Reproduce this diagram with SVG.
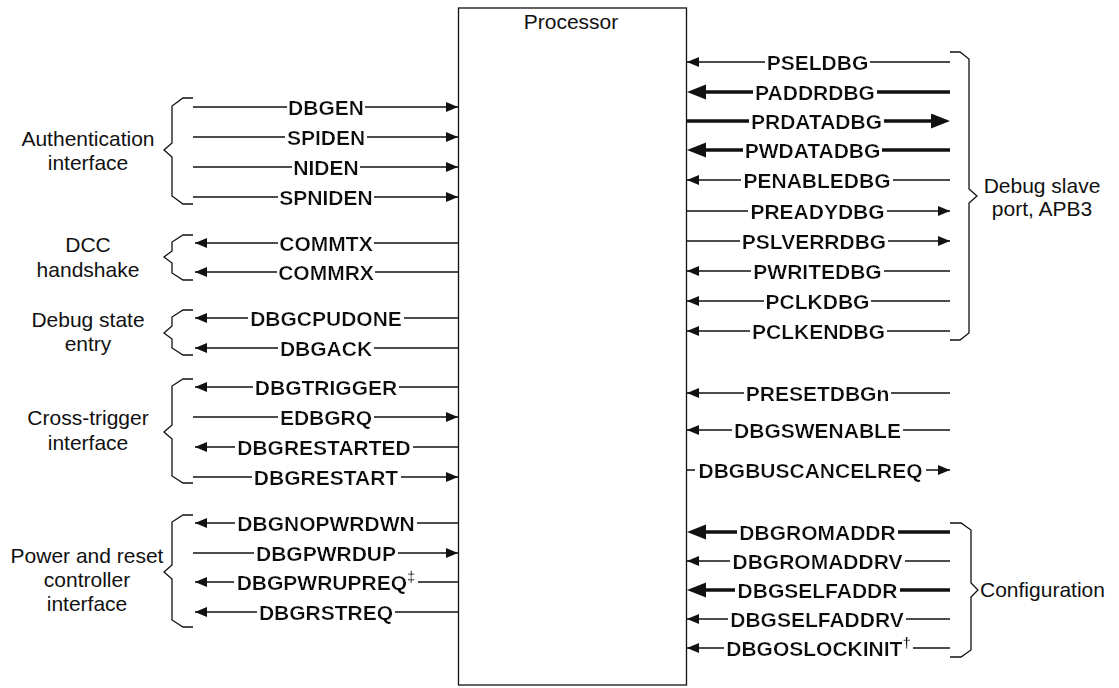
<svg xmlns="http://www.w3.org/2000/svg" width="1119" height="688" viewBox="0 0 1119 688">
<style>
text{font-family:"Liberation Sans",Arial,sans-serif;fill:#111}
.sig{font-size:21px;font-weight:bold;text-anchor:middle;filter:url(#bg)}
.lbl{font-size:21px;text-anchor:middle}
.thin{stroke:#111;stroke-width:1.3;fill:none}
.thick{stroke:#111;stroke-width:3.6;fill:none}
.brace{stroke:#111;stroke-width:1.3;fill:none}
.sup{font-size:15px}
</style>
<defs>
<filter id="bg" x="-0.012" y="0" width="1.024" height="1"><feFlood flood-color="#fff"/><feComposite in="SourceGraphic"/></filter>
<marker id="a" markerUnits="userSpaceOnUse" markerWidth="13" markerHeight="11" refX="12" refY="5" orient="auto"><path d="M0,0 L12,5 L0,10z" fill="#111"/></marker>
<marker id="A" markerUnits="userSpaceOnUse" markerWidth="20" markerHeight="16" refX="11" refY="7.5" orient="auto"><path d="M0,0 L19,7.5 L0,15z" fill="#111"/></marker>
</defs>
<rect width="1119" height="688" fill="#fff"/>
<g id="processor">
<rect x="458.5" y="8" width="228" height="677" fill="#fff" stroke="#111" stroke-width="1.3"/>
<text class="lbl" x="571" y="29">Processor</text>
</g>
<g id="connectors">
<line class="thin" x1="193" y1="107" x2="458" y2="107" marker-end="url(#a)"/>
<line class="thin" x1="193" y1="137" x2="458" y2="137" marker-end="url(#a)"/>
<line class="thin" x1="193" y1="167" x2="458" y2="167" marker-end="url(#a)"/>
<line class="thin" x1="193" y1="197" x2="458" y2="197" marker-end="url(#a)"/>
<line class="thin" x1="458" y1="243" x2="195" y2="243" marker-end="url(#a)"/>
<line class="thin" x1="458" y1="272" x2="195" y2="272" marker-end="url(#a)"/>
<line class="thin" x1="458" y1="318" x2="195" y2="318" marker-end="url(#a)"/>
<line class="thin" x1="458" y1="348" x2="195" y2="348" marker-end="url(#a)"/>
<line class="thin" x1="458" y1="387" x2="195" y2="387" marker-end="url(#a)"/>
<line class="thin" x1="193" y1="417" x2="458" y2="417" marker-end="url(#a)"/>
<line class="thin" x1="458" y1="447" x2="195" y2="447" marker-end="url(#a)"/>
<line class="thin" x1="193" y1="477" x2="458" y2="477" marker-end="url(#a)"/>
<line class="thin" x1="458" y1="523" x2="195" y2="523" marker-end="url(#a)"/>
<line class="thin" x1="193" y1="553" x2="458" y2="553" marker-end="url(#a)"/>
<line class="thin" x1="458" y1="582" x2="195" y2="582" marker-end="url(#a)"/>
<line class="thin" x1="458" y1="612" x2="195" y2="612" marker-end="url(#a)"/>

<line class="thin" x1="950" y1="62" x2="687" y2="62" marker-end="url(#a)"/>
<line class="thick" x1="950" y1="92" x2="695" y2="92" marker-end="url(#A)"/>
<line class="thick" x1="687" y1="121" x2="942" y2="121" marker-end="url(#A)"/>
<line class="thick" x1="950" y1="150" x2="695" y2="150" marker-end="url(#A)"/>
<line class="thin" x1="950" y1="180" x2="687" y2="180" marker-end="url(#a)"/>
<line class="thin" x1="687" y1="211" x2="950" y2="211" marker-end="url(#a)"/>
<line class="thin" x1="687" y1="241" x2="950" y2="241" marker-end="url(#a)"/>
<line class="thin" x1="950" y1="271" x2="687" y2="271" marker-end="url(#a)"/>
<line class="thin" x1="950" y1="301" x2="687" y2="301" marker-end="url(#a)"/>
<line class="thin" x1="950" y1="331" x2="687" y2="331" marker-end="url(#a)"/>
<line class="thin" x1="950" y1="393" x2="687" y2="393" marker-end="url(#a)"/>
<line class="thin" x1="950" y1="430" x2="687" y2="430" marker-end="url(#a)"/>
<line class="thin" x1="687" y1="470" x2="950" y2="470" marker-end="url(#a)"/>
<line class="thick" x1="950" y1="532" x2="695" y2="532" marker-end="url(#A)"/>
<line class="thin" x1="950" y1="561" x2="687" y2="561" marker-end="url(#a)"/>
<line class="thick" x1="950" y1="590" x2="695" y2="590" marker-end="url(#A)"/>
<line class="thin" x1="950" y1="619" x2="687" y2="619" marker-end="url(#a)"/>
<line class="thin" x1="950" y1="648" x2="687" y2="648" marker-end="url(#a)"/>
</g>
<g id="signal-labels">
<text class="sig" x="326" y="114.5">DBGEN</text>
<text class="sig" x="326" y="144.5">SPIDEN</text>
<text class="sig" x="326" y="174.5">NIDEN</text>
<text class="sig" x="326" y="204.5">SPNIDEN</text>
<text class="sig" x="326" y="250.5">COMMTX</text>
<text class="sig" x="326" y="279.5">COMMRX</text>
<text class="sig" x="326" y="325.5">DBGCPUDONE</text>
<text class="sig" x="326" y="355.5">DBGACK</text>
<text class="sig" x="326" y="394.5">DBGTRIGGER</text>
<text class="sig" x="326" y="424.5">EDBGRQ</text>
<text class="sig" x="324" y="454.5">DBGRESTARTED</text>
<text class="sig" x="326" y="484.5">DBGRESTART</text>
<text class="sig" x="326" y="530.5">DBGNOPWRDWN</text>
<text class="sig" x="326" y="560.5">DBGPWRDUP</text>
<text class="sig" x="326" y="589.5">DBGPWRUPREQ<tspan class="sup" dy="-8">‡</tspan></text>
<text class="sig" x="326" y="619.5">DBGRSTREQ</text>

<text class="sig" x="817.5" y="69.5">PSELDBG</text>
<text class="sig" x="815" y="99.5">PADDRDBG</text>
<text class="sig" x="816.5" y="128.5">PRDATADBG</text>
<text class="sig" x="812.5" y="157.5">PWDATADBG</text>
<text class="sig" x="817" y="187.5">PENABLEDBG</text>
<text class="sig" x="817.5" y="218.5">PREADYDBG</text>
<text class="sig" x="814" y="248.5">PSLVERRDBG</text>
<text class="sig" x="817.5" y="278.5">PWRITEDBG</text>
<text class="sig" x="817.5" y="308.5">PCLKDBG</text>
<text class="sig" x="818.5" y="338.5">PCLKENDBG</text>
<text class="sig" x="817.5" y="400.5">PRESETDBGn</text>
<text class="sig" x="817.5" y="437.5">DBGSWENABLE</text>
<text class="sig" x="810.5" y="477.5">DBGBUSCANCELREQ</text>
<text class="sig" x="817.5" y="539.5">DBGROMADDR</text>
<text class="sig" x="817.5" y="568.5">DBGROMADDRV</text>
<text class="sig" x="817.5" y="597.5">DBGSELFADDR</text>
<text class="sig" x="817" y="626.5">DBGSELFADDRV</text>
<text class="sig" x="818.5" y="655.5">DBGOSLOCKINIT<tspan class="sup" dy="-8">†</tspan></text>
</g>
<g id="authentication-interface">
<path class="brace" d="M193,98 H183 L172,106 V143 L164,150 L172,157 V196 L183,204 H193"/>
<text class="lbl" x="88" y="146">Authentication</text>
<text class="lbl" x="88" y="170">interface</text>
</g>
<g id="dcc-handshake">
<path class="brace" d="M193,235 H183 L172,242 V251 L164,257 L172,263 V273 L183,280 H193"/>
<text class="lbl" x="88" y="252">DCC</text>
<text class="lbl" x="88" y="277">handshake</text>
</g>
<g id="debug-state-entry">
<path class="brace" d="M193,310 H183 L172,317 V326 L164,333 L172,339 V348 L183,355 H193"/>
<text class="lbl" x="88" y="327">Debug state</text>
<text class="lbl" x="88" y="351">entry</text>
</g>
<g id="cross-trigger-interface">
<path class="brace" d="M193,379 H183 L172,386 V425 L164,432 L172,439 V476 L183,483 H193"/>
<text class="lbl" x="88" y="425">Cross-trigger</text>
<text class="lbl" x="88" y="450">interface</text>
</g>
<g id="power-reset-controller-interface">
<path class="brace" d="M193,515 H183 L172,522 V565 L164,572 L172,579 V620 L183,627 H193"/>
<text class="lbl" x="87" y="563">Power and reset</text>
<text class="lbl" x="87" y="587">controller</text>
<text class="lbl" x="87" y="611">interface</text>
</g>
<g id="debug-slave-port">
<path class="brace" d="M950,52 H960 L969,59 V189 L977,196 L969,203 V333 L960,340 H950"/>
<text class="lbl" x="1042" y="193">Debug slave</text>
<text class="lbl" x="1042" y="216">port, APB3</text>
</g>
<g id="configuration">
<path class="brace" d="M950,523 H961 L971,530 V583 L978,590 L971,597 V650 L961,657 H950"/>
<text class="lbl" x="980" y="597" style="text-anchor:start">Configuration</text>
</g>
</svg>
